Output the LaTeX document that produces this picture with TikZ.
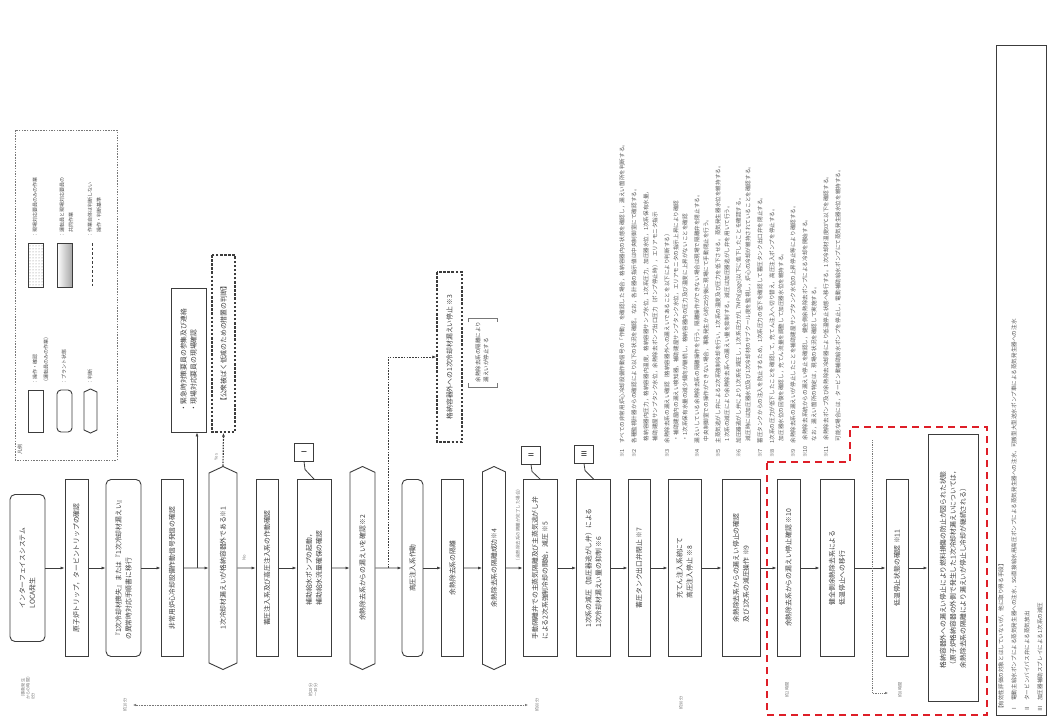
\documentclass[tikz,border=0pt]{standalone}
\usepackage{fontspec}
\setmainfont{Noto Sans CJK JP}
\usetikzlibrary{arrows.meta,shapes.symbols,positioning,calc,patterns}
\definecolor{LineG}{RGB}{60,60,60}
\definecolor{NoteG}{RGB}{120,120,120}
\definecolor{RedD}{RGB}{222,30,40}

\tikzset{
  base/.style={rotate=90, draw=LineG, line width=0.9pt, font=\fontsize{6.8}{10}\selectfont,
    align=left, inner sep=2pt, text=black!75},
  opbox/.style={base, minimum width=177, minimum height=#1},
  opbox/.default=23,
  plant/.style={opbox=#1, rounded corners=5pt},
  plant/.default=23,
  judge/.style={base, shape=signal, signal to=east and west, signal pointer angle=130,
    minimum width=203, minimum height=#1},
  judge/.default=28,
  dashbox/.style={base, line width=1.4pt, dash pattern=on 2.5pt off 1.6pt},
  arr/.style={-{Latex[length=4pt,width=3pt]}, draw=LineG, line width=0.7pt},
  dotarr/.style={arr, dash pattern=on 1.6pt off 1.2pt},
  tagbox/.style={rotate=90, draw=LineG, line width=0.9pt, minimum width=18, minimum height=19,
    inner sep=0pt, font=\fontsize{7}{8}\selectfont},
  tlab/.style={rotate=90, font=\fontsize{4.2}{5}\selectfont, text=NoteG, align=left, inner sep=0pt},
  notetxt/.style={rotate=90, anchor=west, font=\fontsize{5.6}{6}\selectfont, text=black!65, inner sep=0pt},
  lgtxt/.style={rotate=90, anchor=west, font=\fontsize{5}{6}\selectfont, text=black!70, inner sep=0pt},
}

\begin{document}
\begin{tikzpicture}[x=1pt,y=-1pt]
\fill[white] (0,0) rectangle (1049,720);
\useasboundingbox (0,0) rectangle (1049,720);

% legend
\draw[NoteG, line width=0.6pt, dash pattern=on 1.5pt off 1.2pt] (15,130) rectangle (117,460);
\node[lgtxt] (lgtitle) at (20,455) {凡例};
\node[base, minimum width=42, minimum height=15] (lg1) at (35.5,411) {};
\node[base, minimum width=42, minimum height=15, rounded corners=4pt] (lg2) at (64.5,411) {};
\node[base, shape=signal, signal to=east and west, signal pointer angle=130,
  minimum width=44, minimum height=13] (lg3) at (90.5,411) {};
\node[lgtxt] at (35,385) {：操作・確認};
\node[lgtxt] at (46,385) {（運転員のみの作業）};
\node[lgtxt] at (64,385) {：プラント状態};
\node[lgtxt] at (90,385) {：判断};
\node[base, minimum width=44, minimum height=15, pattern=dots, pattern color=gray] (lg4) at (35.5,265) {};
\node[base, minimum width=44, minimum height=15, left color=white, right color=gray!70] (lg5) at (64.5,265) {};
\coordinate (lgdt) at (92,243);
\coordinate (lgdb) at (92,287);
\draw[LineG, line width=1pt, dash pattern=on 2.5pt off 2pt] (lgdt) -- (lgdb);
\node[lgtxt] at (35,238) {：現場対応要員のみの作業};
\node[lgtxt] at (62,238) {：運転員と現場対応要員の};
\node[lgtxt] at (71,238) {\quad 共同作業};
\node[lgtxt] at (90,238) {：作業自体は判断しない};
\node[lgtxt] at (99,238) {\quad 操作・判断基準};

% main flow
\node[plant=35, minimum width=147] (n1) at (27.5,568) {インターフェイスシステム\\LOCA発生};
\node[opbox] (n2) at (76.5,568) {原子炉トリップ，タービントリップの確認};
\node[plant=35] (n3) at (123.5,568) {『1次冷却材喪失』または『1次冷却材漏えい』\\の異常時対応手順書に移行};
\node[opbox=22] (n4) at (172,568) {非常用炉心冷却設備作動信号発信の確認};
\node[judge] (n5) at (223,568) {1次冷却材漏えいが格納容器外である※1};
\node[opbox=22] (n6) at (267,568) {蓄圧注入系及び高圧注入系の作動確認};
\node[opbox=34] (n7) at (314,568) {補助給水ポンプの起動，\\補助給水流量確保の確認};
\node[judge=25] (n8) at (362.5,568) {余熱除去系からの漏えいを確認※2};
\node[plant=21] (n9) at (412.5,568) {高圧注入系作動};
\node[opbox=22] (n10) at (452.5,568) {余熱除去系の隔離};
\node[judge=23] (n11) at (494,568) {余熱除去系の隔離成功※4};
\node[opbox=34] (n12) at (540,568) {手動隔離弁での主蒸気隔離及び主蒸気逃がし弁\\による2次系強制冷却の開始，減圧 ※5};
\node[opbox=34] (n13) at (593.5,568) {1次系の減圧（加圧器逃がし弁）による\\1次冷却材漏えい量の抑制 ※6};
\node[opbox=22] (n14) at (639,568) {蓄圧タンク出口弁閉止 ※7};
\node[opbox=33] (n15) at (684.5,568) {充てん注入系統にて\\高圧注入停止 ※8};
\node[opbox=38] (n16) at (741,568) {余熱除去系からの漏えい停止の確認\\及び1次系の減圧操作 ※9};
\node[opbox=23] (n17) at (788.5,568) {余熱除去系からの漏えい停止確認 ※10};
\node[opbox=34] (n18) at (837,568) {健全側余熱除去系による\\低温停止への移行};
\node[opbox=22] (n19) at (897,568) {低温停止状態の確認 ※11};
\node[opbox=50, minimum width=267] (n20) at (953,568)
  {格納容器外への漏えい停止により燃料損傷の防止が図られた状態\\（原子炉格納容器の外側で発生した1次冷却材漏えいについては，\\余熱除去系の隔離により漏えいが停止し冷却が継続される）};

\foreach \a/\b in {n1/n2,n2/n3,n3/n4,n4/n5,n5/n6,n6/n7,n7/n8,n8/n9,n9/n10,n10/n11,
                   n11/n12,n12/n13,n13/n14,n14/n15,n15/n16,n16/n17,n17/n18,n18/n19,n19/n20}
  \draw[arr] (\a) -- (\b);

% side boxes
\node[base, minimum width=144, minimum height=35] (notify) at (188.5,360)
  {・緊急時対策要員の参集及び連絡\\・現場対応要員の現場確認};
\node[dashbox, minimum width=177, minimum height=23] (pub) at (223.5,343.5)
  {【公衆被ばく低減のための措置の判断】};
\node[dashbox, minimum width=170, minimum height=25] (stop) at (449.5,357)
  {格納容器外への1次冷却材漏えい停止 ※3};
\node[rotate=90, font=\fontsize{5.5}{8}\selectfont, text=black!70, align=left] (brk) at (482,352)
  {余熱除去系の隔離により\\漏えいが停止する};
\draw[NoteG, line width=0.6pt] (468,322) -- (468,318) -- (497,318) -- (497,322);
\draw[NoteG, line width=0.6pt] (468,383) -- (468,387) -- (497,387) -- (497,383);

\coordinate (b1) at (197,568);
\draw[arr] (b1) -- (b1 |- notify.west);
\draw[dotarr, line width=1.2pt] (n5.east) -- (pub.west);
\node[tlab] (yes) at (216,457) {Yes};
\node[tlab] (no) at (244,558) {No};
\coordinate (b2) at (388,568);
\draw[dotarr] (b2) |- (stop);
\node[tlab, font=\fontsize{4.5}{5}\selectfont] (lab11) at (518,525) {（余熱除去系の隔離が完了した場合）};

% tags
\node[tagbox] (t1) at (304,452) {Ⅰ};
\node[tagbox] (t2) at (531,455) {Ⅱ};
\node[tagbox] (t3) at (584,454) {Ⅲ};
\draw[LineG, line width=0.8pt] (t1.west) -- ++(1,8) -- (n7.east);
\draw[LineG, line width=0.8pt] (t2.west) -- ++(1,7) -- (n12.east);
\draw[LineG, line width=0.8pt] (t3.west) -- ++(1,7) -- (n13.east);

% time axis
\node[tlab] at (28,687) {（事象発生\\からの時間）\\0分};
\coordinate (tl) at (133,705);
\coordinate (tr) at (528,705);
\draw[{Latex[length=3pt,width=2.5pt]}-{Latex[length=3pt,width=2.5pt]}, NoteG, line width=0.5pt,
  dash pattern=on 1pt off 0.6pt] (tl) -- (tr);
\node[tlab] at (125,705) {約10分};
\node[tlab] at (313,690) {約20分\\〜30分};
\node[tlab] at (537,705) {約60分};
\node[tlab] at (681,703) {約90分};
\node[tlab] at (787,690) {約2時間};
\node[tlab] at (900,690) {約8時間};
\coordinate (vt) at (872,440);
\coordinate (vb) at (872,693);
\coordinate (ve) at (888,693);
\draw[-{Latex[length=3pt,width=2.5pt]}, NoteG, line width=0.5pt, dash pattern=on 1pt off 0.8pt]
  (vt) -- (vb) -- (ve);

% red area
\draw[RedD, line width=2.3pt, dash pattern=on 7pt off 5pt]
  (767,462) -- (850,462) -- (850,427) -- (987,427) -- (987,715) -- (767,715) -- cycle;

% notes
\foreach \x/\t in {
  622/{※1　すべての非常用炉心冷却設備作動信号の「作動」を確認した場合，格納容器内の状態を確認し，漏えい箇所を判断する。},
  634/{※2　各種監視計器からの確認により以下の状況を確認。なお，各計器の指示値は中央制御室にて確認する。},
  646/{　　　格納容器内圧力，格納容器内温度，格納容器サンプ水位，1次系圧力，加圧器水位，1次系保有水量，},
  655/{　　　補助建屋サンプタンク水位，余熱除去ポンプ出口圧力（ポンプ停止時），エリアモニタ指示},
  667/{※3　余熱除去系の漏えい確認（格納容器外への漏えいであることを以下により判断する）},
  676/{　　　・補助建屋内の漏えい検知器，補助建屋サンプタンク水位，エリアモニタの指示上昇により確認},
  685/{　　　・1次系保有水量の減少傾向が継続し，格納容器内の圧力及び温度に上昇がないことを確認},
  697/{※4　漏えいしている余熱除去系の隔離操作を行う。隔離操作ができない場合は現場で隔離弁を閉止する。},
  706/{　　　中央制御室での操作ができない場合，事象発生から約25分後に現場にて手動閉止を行う。},
  718/{※5　主蒸気逃がし弁による2次系強制冷却を行い，1次系の温度及び圧力を低下させる。蒸気発生器水位を維持する。},
  727/{　　　1次系の減圧により余熱除去系への漏えい量を抑制する。減圧は加圧器逃がし弁を用いて行う。},
  739/{※6　加圧器逃がし弁により1次系を減圧し，1次系圧力が1.7MPa[gage]以下に低下したことを確認する。},
  748/{　　　減圧時には加圧器水位及び1次冷却材のサブクール度を監視し，炉心の冷却が維持されていることを確認する。},
  760/{※7　蓄圧タンクからの注入を防止するため，1次系圧力の低下を確認して蓄圧タンク出口弁を閉止する。},
  772/{※8　1次系の圧力が低下したことを確認して，充てん注入へ切り替え，高圧注入ポンプを停止する。},
  781/{　　　加圧器水位の回復を確認し，充てん流量を調整して加圧器水位を維持する。},
  793/{※9　余熱除去系の漏えいが停止したことを補助建屋サンプタンク水位の上昇停止等により確認する。},
  805/{※10　余熱除去系統からの漏えい停止を確認し，健全側余熱除去ポンプによる冷却を開始する。},
  814/{　　　なお，漏えい箇所の特定は，現場の状況を確認して実施する。},
  826/{※11　余熱除去ポンプ及び余熱除去冷却器により低温停止状態へ移行する。1次冷却材温度93℃以下を確認する。},
  838/{　　　可能な場合には，タービン動補助給水ポンプを停止し，電動補助給水ポンプにて蒸気発生器水位を維持する。}}
  \node[notetxt] at (\x,458) {\t};

% other means
\draw[LineG, line width=1pt] (996,45) rectangle (1046,715);
\node[notetxt] at (1001,712) {【有効性評価の対象とはしていないが，他に取り得る手段】};
\node[notetxt] at (1014,712) {Ⅰ　電動主給水ポンプによる蒸気発生器への注水，SG直接給水用高圧ポンプによる蒸気発生器への注水，可搬型大型送水ポンプ車による蒸気発生器への注水};
\node[notetxt] at (1027,712) {Ⅱ　タービンバイパス弁による蒸気放出};
\node[notetxt] at (1040,712) {Ⅲ　加圧器補助スプレイによる1次系の減圧};
\end{tikzpicture}
\end{document}
